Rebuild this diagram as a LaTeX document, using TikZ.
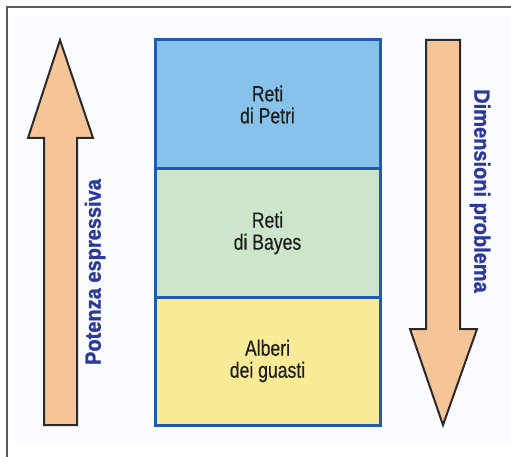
\documentclass[tikz,border=0pt]{standalone}
\usepackage{fontspec}
\setmainfont{Liberation Sans}
\newfontfamily\boxfont[FakeStretch=0.8, FakeBold=0.4]{Liberation Sans}
\newfontfamily\arrowfont[UprightFont={* Bold}, FakeStretch=0.91, FakeBold=1.2]{Liberation Sans}
\definecolor{framegray}{HTML}{5A5A5A}
\definecolor{panelbg}{HTML}{FAFBFE}
\definecolor{boxblue}{HTML}{1F5CB0}
\definecolor{fillblue}{HTML}{86C2EA}
\definecolor{fillgreen}{HTML}{CCE5CB}
\definecolor{fillyellow}{HTML}{F9EA98}
\definecolor{arrowfill}{HTML}{F6C597}
\definecolor{arrowline}{HTML}{2A2A2A}
\definecolor{labelblue}{HTML}{2B3A9A}
\definecolor{boxtext}{HTML}{1E1E1E}
\tikzset{
  layerbox/.style={draw=boxblue, line width=3pt, minimum width=225pt, minimum height=128pt,
    inner sep=0pt, align=center, font=\boxfont\fontsize{22}{22}\selectfont, text=boxtext},
  bigarrow/.style={fill=arrowfill, draw=arrowline, line width=2pt, line join=miter},
  sidelabel/.style={font=\arrowfont\fontsize{22}{24}\selectfont, text=labelblue, inner sep=0pt}
}
\begin{document}
\begin{tikzpicture}[x=1pt,y=-1pt]
\useasboundingbox (0,0) rectangle (511,457);
\fill[white] (0,0) rectangle (511,457);
\fill[panelbg] (15,17) rectangle (511,443);
\draw[framegray, line width=2pt] (7,457) -- (7,7) -- (511,7);
% left arrow (up)
\draw[bigarrow] (60,40) -- (93,138) -- (77,138) -- (77,425) -- (44,425) -- (44,138) -- (28,138) -- cycle;
% right arrow (down)
\draw[bigarrow] (443,425) -- (477,329) -- (460,329) -- (460,40) -- (426,40) -- (426,329) -- (410,329) -- cycle;
% layer boxes
\node[layerbox, fill=fillblue, minimum height=129pt] (petri) at (267.5,104.5) {Reti\\di Petri};
\node[layerbox, fill=fillgreen] (bayes) at (267.5,233) {Reti\\di Bayes};
\node[layerbox, fill=fillyellow] (guasti) at (267.5,361) {Alberi\\dei guasti};
% side labels
\node[sidelabel, rotate=90] (potenza) at (95,272) {Potenza espressiva};
\node[sidelabel, rotate=-90] (dimensioni) at (480,191) {Dimensioni problema};
\end{tikzpicture}
\end{document}
